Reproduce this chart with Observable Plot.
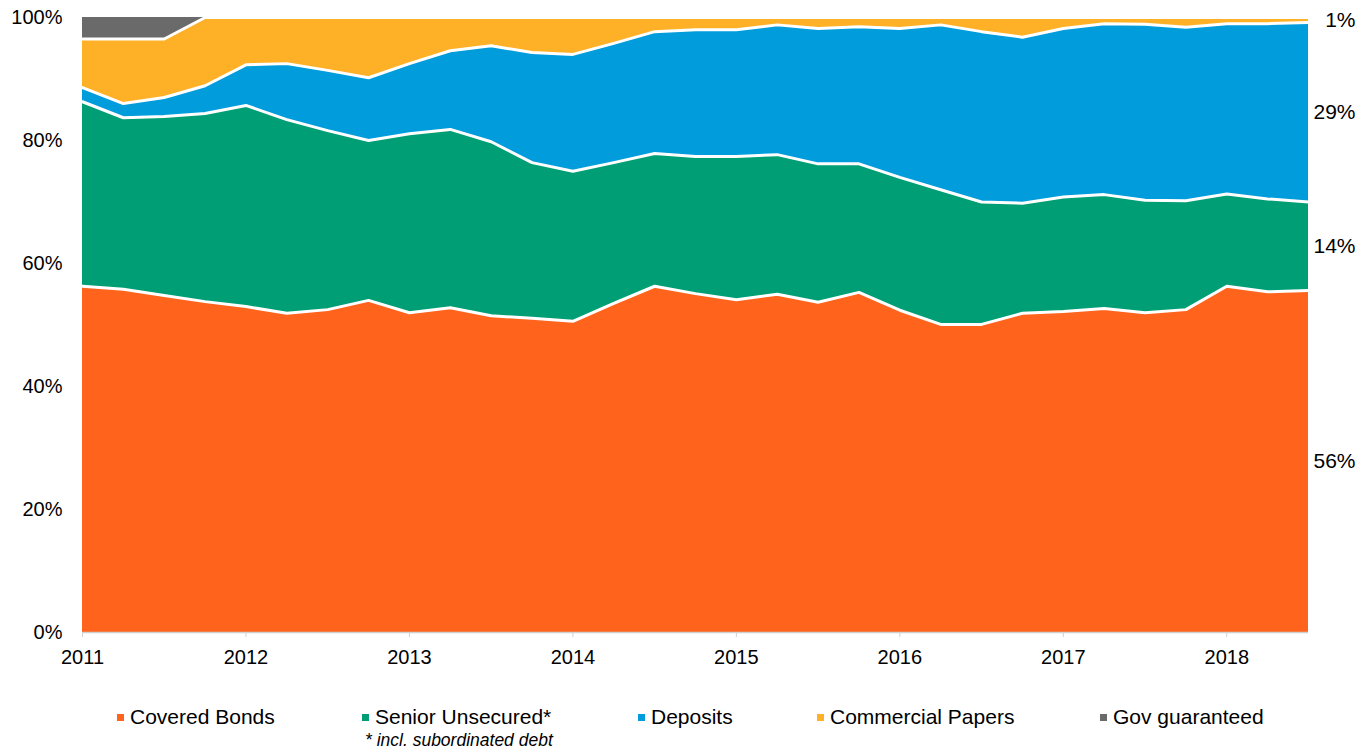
<!DOCTYPE html>
<html>
<head>
<meta charset="utf-8">
<script src="https://cdn.jsdelivr.net/npm/d3@7"></script>
<script src="https://cdn.jsdelivr.net/npm/@observablehq/plot@0.6"></script>
<style>
  html, body { margin: 0; padding: 0; background: #fff; }
  #wrap { position: relative; width: 1367px; height: 753px; font-family: "Liberation Sans", Arial, sans-serif; color: #000; }
  #chart svg { display: block; }
  .leg { position: absolute; top: 704px; font-size: 21px; line-height: 26px; white-space: nowrap; }
  .sw { position: absolute; width: 7px; height: 7px; top: 10px; }
  .note { position: absolute; top: 730px; left: 365px; font-size: 17.5px; font-style: italic; white-space: nowrap; }
</style>
</head>
<body>
<div id="wrap">
  <div id="chart"></div>
  <div id="legend"></div>
  <div class="note">* incl. subordinated debt</div>
</div>
<script>
// Quarter positions (fractional years)
const quarters = [2011.00, 2011.25, 2011.50, 2011.75, 2012.00, 2012.25, 2012.50, 2012.75,
                  2013.00, 2013.25, 2013.50, 2013.75, 2014.00, 2014.25, 2014.50, 2014.75,
                  2015.00, 2015.25, 2015.50, 2015.75, 2016.00, 2016.25, 2016.50, 2016.75,
                  2017.00, 2017.25, 2017.50, 2017.75, 2018.00, 2018.25, 2018.50];

// Shares in %
const coveredBonds = [56.3, 55.8, 54.8, 53.8, 53.0, 51.9, 52.5, 54.0, 52.0, 52.8, 51.5, 51.1, 50.6, 53.5, 56.3, 55.1,
                      54.1, 55.0, 53.7, 55.3, 52.4, 50.1, 50.1, 51.9, 52.2, 52.7, 52.0, 52.5, 56.3, 55.4, 55.6];
const seniorUnsecured = [30.0, 27.9, 29.1, 30.6, 32.7, 31.5, 29.1, 26.0, 29.1, 29.0, 28.3, 25.3, 24.4, 22.9, 21.6, 22.3,
                         23.3, 22.7, 22.5, 20.9, 21.6, 21.9, 19.9, 17.9, 18.6, 18.5, 18.3, 17.7, 15.0, 15.1, 14.4];
const deposits = [2.3, 2.3, 3.1, 4.5, 6.6, 9.1, 9.8, 10.2, 11.4, 12.8, 15.6, 17.9, 19.0, 19.4, 19.8, 20.6,
                  20.6, 21.1, 22.0, 22.3, 24.2, 26.8, 27.7, 27.0, 27.4, 27.8, 28.6, 28.2, 27.7, 28.5, 29.2];
const commercialPapers = [7.9, 10.5, 9.5, 11.1, 7.7, 7.5, 8.6, 9.8, 7.5, 5.4, 4.6, 5.7, 6.0, 4.2, 2.3, 2.0,
                          2.0, 1.2, 1.8, 1.5, 1.8, 1.2, 2.3, 3.2, 1.8, 1.0, 1.1, 1.6, 1.0, 1.0, 0.8];
const govGuaranteed = [3.5, 3.5, 3.5, 0, 0, 0, 0, 0, 0, 0, 0, 0, 0, 0, 0, 0,
                       0, 0, 0, 0, 0, 0, 0, 0, 0, 0, 0, 0, 0, 0, 0];

const seriesNames = ["Covered Bonds", "Senior Unsecured*", "Deposits", "Commercial Papers", "Gov guaranteed"];
const seriesColors = ["#FF631C", "#009E74", "#009CDC", "#FEB027", "#6A6A6A"];
const yearTicks = [2011, 2012, 2013, 2014, 2015, 2016, 2017, 2018];
const percentTicks = [0, 20, 40, 60, 80, 100];

const seriesValues = [coveredBonds, seniorUnsecured, deposits, commercialPapers, govGuaranteed];
const rows = [];
seriesNames.forEach((name, k) => {
  quarters.forEach((t, i) => rows.push({series: name, t, v: seriesValues[k][i]}));
});
const lastT = quarters[quarters.length - 1];

const chart = Plot.plot({
  width: 1367,
  height: 680,
  marginLeft: 82,
  marginRight: 59,
  marginTop: 17,
  marginBottom: 48,
  style: {fontFamily: "Liberation Sans, Arial, sans-serif", fontSize: "20px", color: "#000", background: "#fff"},
  x: {domain: [2011, 2018.5], ticks: yearTicks, tickFormat: d => String(d), tickSize: 5, tickPadding: 12, label: null},
  y: {domain: [0, 100], ticks: percentTicks, tickFormat: d => d + "%", tickSize: 0, tickPadding: 20, label: null},
  color: {domain: seriesNames, range: seriesColors},
  marks: [
    Plot.axisY({ticks: percentTicks, tickFormat: d => d + "%", tickSize: 0, tickPadding: 20, fontSize: 20, label: null}),
    Plot.axisX({ticks: yearTicks, tickFormat: d => String(d), tickSize: 5, tickPadding: 12, stroke: "#d0d0d0", fontSize: 20, label: null}),
    Plot.ruleX([2011], {stroke: "#d9d9d9"}),
    Plot.areaY(rows, {x: "t", y: "v", z: "series", fill: "series", order: seriesNames}),
    Plot.lineY(rows, Plot.stackY2({
      x: "t", y: "v", z: "series", order: seriesNames,
      filter: d => d.series !== "Gov guaranteed",
      stroke: "white", strokeWidth: 3
    })),
    Plot.ruleY([0], {stroke: "#d0d0d0", strokeWidth: 1.5}),
    Plot.text(rows.filter(d => d.t === lastT && d.v > 0.3), Plot.stackY({
      x: "t", y: "v", z: "series", order: seriesNames,
      text: d => Math.round(d.v) + "%",
      textAnchor: "end", dx: 47, fontSize: 21, fill: "#000"
    }))
  ]
});
document.getElementById("chart").appendChild(chart);

// Legend (HTML, below the SVG)
const legendLeft = [117, 362, 638, 817, 1100];
const legend = document.getElementById("legend");
seriesNames.forEach((name, k) => {
  const item = document.createElement("div");
  item.className = "leg";
  item.style.left = legendLeft[k] + "px";
  const sw = document.createElement("span");
  sw.className = "sw";
  sw.style.left = "0px";
  sw.style.background = seriesColors[k];
  const label = document.createElement("span");
  label.textContent = name;
  label.style.marginLeft = "13px";
  item.appendChild(sw);
  item.appendChild(label);
  legend.appendChild(item);
});
</script>
</body>
</html>
